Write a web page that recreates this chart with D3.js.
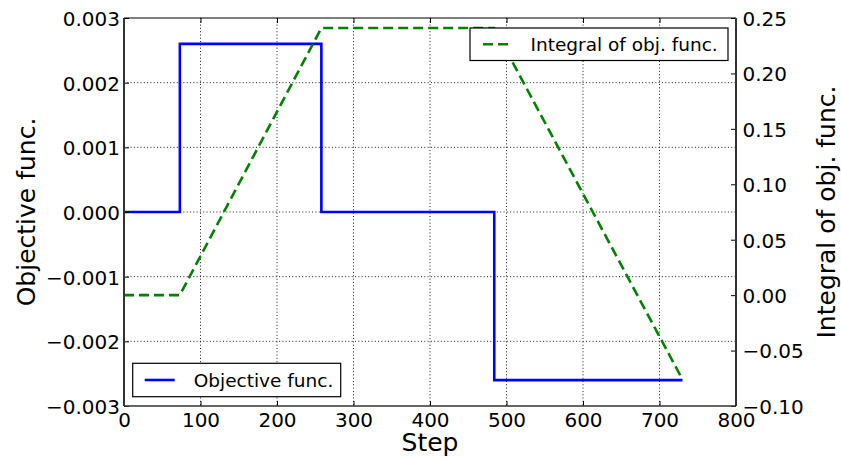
<!DOCTYPE html>
<html>
<head>
<meta charset="utf-8">
<script src="https://cdn.jsdelivr.net/npm/d3@7"></script>
<style>
  body { margin: 0; background: #fff; }
  svg { display: block; font-family: "DejaVu Sans", sans-serif; }
</style>
</head>
<body>
<svg id="chart" width="841" height="460"></svg>
<script>
// ---- data ----
const objSteps  = [0, 73, 73, 258, 258, 484, 484, 730];
const objValues = [0, 0, 0.0026, 0.0026, 0, 0, -0.0026, -0.0026];
const intSteps  = [0, 73, 258, 484, 730];
const intValues = [0, 0, 0.241, 0.241, -0.076];

const xTicks  = [0, 100, 200, 300, 400, 500, 600, 700, 800];
const yLTicks = [-0.003, -0.002, -0.001, 0, 0.001, 0.002, 0.003];
const yRTicks = [-0.10, -0.05, 0.00, 0.05, 0.10, 0.15, 0.20, 0.25];

const xLabel = "Step";
const yLLabel = "Objective func.";
const yRLabel = "Integral of obj. func.";
const objName = "Objective func.";
const intName = "Integral of obj. func.";

// ---- layout ----
const L = 124, R = 736, T = 18, B = 406;
const svg = d3.select("#chart");

const x  = d3.scaleLinear().domain([0, 800]).range([L, R]);
const yL = d3.scaleLinear().domain([-0.003, 0.003]).range([B, T]);
const yR = d3.scaleLinear().domain([-0.10, 0.25]).range([B, T]);

// grid
const grid = svg.append("g").attr("stroke", "#000").attr("stroke-width", 0.9)
  .attr("stroke-dasharray", "1,2.3");
grid.selectAll("line.v").data(xTicks.slice(1, -1)).join("line")
  .attr("x1", d => x(d)).attr("x2", d => x(d)).attr("y1", T).attr("y2", B);
grid.selectAll("line.h").data(yLTicks.slice(1, -1)).join("line")
  .attr("y1", d => yL(d)).attr("y2", d => yL(d)).attr("x1", L).attr("x2", R);

// lines
const objLine = d3.line().x((d, i) => x(objSteps[i])).y(d => yL(d));
svg.append("path").datum(objValues).attr("d", objLine)
  .attr("fill", "none").attr("stroke", "#0000ff").attr("stroke-width", 2.6)
  .attr("stroke-linejoin", "miter");

const intLine = d3.line().x((d, i) => x(intSteps[i])).y(d => yR(d));
svg.append("path").datum(intValues).attr("d", intLine)
  .attr("fill", "none").attr("stroke", "#008000").attr("stroke-width", 2.6)
  .attr("stroke-dasharray", "10,5");

// axes
const fontTick = "20px";
const xAxisB = d3.axisBottom(x).tickValues(xTicks).tickFormat(d3.format("d"))
  .tickSize(-5).tickPadding(7);
const gxb = svg.append("g").attr("transform", `translate(0,${B})`).call(xAxisB);
const xAxisT = d3.axisTop(x).tickValues(xTicks).tickFormat("").tickSize(-5);
const gxt = svg.append("g").attr("transform", `translate(0,${T})`).call(xAxisT);
const yAxisL = d3.axisLeft(yL).tickValues(yLTicks).tickFormat(d3.format(".3f"))
  .tickSize(-5).tickPadding(4);
const gyl = svg.append("g").attr("transform", `translate(${L},0)`).call(yAxisL);
const yAxisR = d3.axisRight(yR).tickValues(yRTicks).tickFormat(d3.format(".2f"))
  .tickSize(-5).tickPadding(6.5);
const gyr = svg.append("g").attr("transform", `translate(${R},0)`).call(yAxisR);

[gxb, gxt, gyl, gyr].forEach(g => {
  g.select(".domain").remove();
  g.selectAll(".tick line").attr("stroke", "#000").attr("stroke-width", 1);
  g.selectAll("text").attr("font-size", fontTick).attr("fill", "#000")
    .attr("font-family", "DejaVu Sans, sans-serif");
});
gyl.selectAll("text").attr("dy", "0.37em");
gyr.selectAll("text").attr("dy", "0.37em");

// spines
svg.append("line").attr("x1", L).attr("x2", R).attr("y1", T).attr("y2", T)
  .attr("stroke", "#000").attr("stroke-width", 1.2);
svg.append("line").attr("x1", L).attr("x2", R).attr("y1", B).attr("y2", B)
  .attr("stroke", "#333").attr("stroke-width", 1.6);
svg.append("line").attr("x1", L).attr("x2", L).attr("y1", T).attr("y2", B)
  .attr("stroke", "#333").attr("stroke-width", 2);
svg.append("line").attr("x1", R).attr("x2", R).attr("y1", T).attr("y2", B)
  .attr("stroke", "#333").attr("stroke-width", 2);

// axis labels
svg.append("text").attr("x", (L + R) / 2).attr("y", 451)
  .attr("text-anchor", "middle").attr("font-size", "25px").text(xLabel);
svg.append("text").attr("transform", `translate(35,${(T + B) / 2}) rotate(-90)`)
  .attr("text-anchor", "middle").attr("font-size", "25px").text(yLLabel);
svg.append("text").attr("transform", `translate(835,${(T + B) / 2}) rotate(-90)`)
  .attr("text-anchor", "middle").attr("font-size", "25px").text(yRLabel);

// legends
function legend(bx, by, bw, bh, name, color, dash, sx1, sx2, tx) {
  const g = svg.append("g");
  g.append("rect").attr("x", bx).attr("y", by).attr("width", bw).attr("height", bh)
    .attr("fill", "#fff").attr("stroke", "#000").attr("stroke-width", 1.2);
  g.append("line").attr("x1", bx + sx1).attr("x2", bx + sx2)
    .attr("y1", by + bh / 2).attr("y2", by + bh / 2)
    .attr("stroke", color).attr("stroke-width", 2.6)
    .attr("stroke-dasharray", dash);
  g.append("text").attr("x", bx + tx).attr("y", by + bh / 2 + 6.5)
    .attr("font-size", "18.5px").text(name);
}
legend(R - 266, T + 10, 258, 32.5, intName, "#008000", "10,5", 13, 38, 60.5);
legend(L + 8.7, B - 42.7, 208, 33.4, objName, "#0000ff", null, 12, 42, 61);
</script>
</body>
</html>
